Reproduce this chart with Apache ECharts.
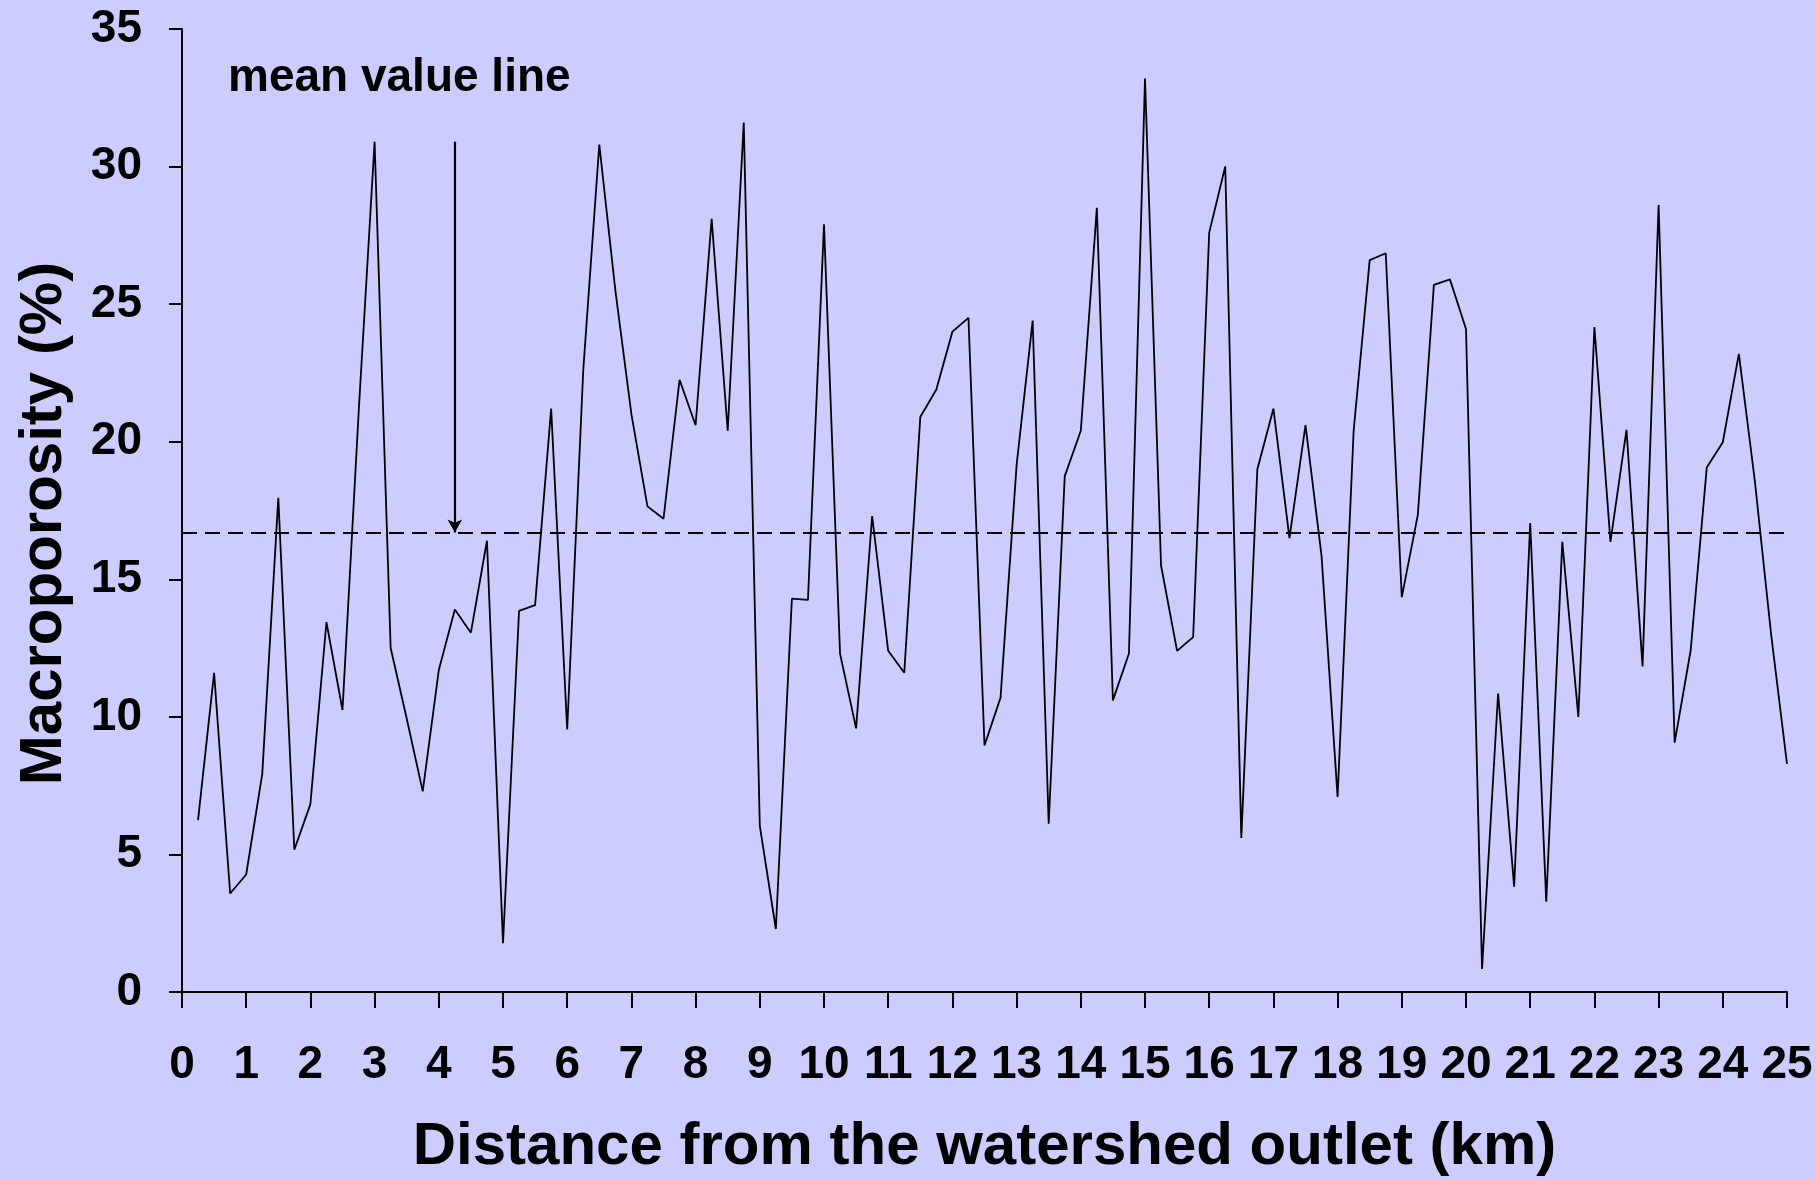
<!DOCTYPE html>
<html>
<head>
<meta charset="utf-8">
<script src="https://cdn.jsdelivr.net/npm/echarts@6/dist/echarts.min.js"></script>
<style>
html,body{margin:0;padding:0;background:#CCCCFF;}
#chart{width:1816px;height:1179px;}
</style>
</head>
<body>
<div id="chart"></div>
<script>
// Distance from the watershed outlet (km)
var distances = [0.25,0.5,0.75,1,1.25,1.5,1.75,2,2.25,2.5,2.75,3,3.25,3.5,3.75,4,4.25,4.5,4.75,5,
  5.25,5.5,5.75,6,6.25,6.5,6.75,7,7.25,7.5,7.75,8,8.25,8.5,8.75,9,9.25,9.5,9.75,10,
  10.25,10.5,10.75,11,11.25,11.5,11.75,12,12.25,12.5,12.75,13,13.25,13.5,13.75,14,14.25,14.5,14.75,15,
  15.25,15.5,15.75,16,16.25,16.5,16.75,17,17.25,17.5,17.75,18,18.25,18.5,18.75,19,19.25,19.5,19.75,20,
  20.25,20.5,20.75,21,21.25,21.5,21.75,22,22.25,22.5,22.75,23,23.25,23.5,23.75,24,24.25,24.5,24.75,25];
// Macroporosity (%)
var macroporosity = [6.25,11.6,3.58,4.27,7.92,17.96,5.17,6.83,13.44,10.25,21.0,30.9,12.5,9.94,7.29,11.7,13.9,13.06,16.4,1.77,
  13.85,14.06,21.2,9.54,22.6,30.8,25.5,21.0,17.65,17.2,22.25,20.6,28.1,20.4,31.6,6.04,2.29,14.3,14.25,27.9,
  12.3,9.58,17.3,12.4,11.6,20.9,21.9,24.0,24.5,8.96,10.7,19.15,24.4,6.12,18.75,20.4,28.5,10.6,12.3,33.2,
  15.5,12.4,12.9,27.6,30.0,5.6,19.0,21.2,16.5,20.6,15.85,7.09,20.4,26.6,26.85,14.35,17.35,25.7,25.9,24.1,
  0.84,10.85,3.83,17.04,3.28,16.36,10.0,24.17,16.36,20.43,11.83,28.6,9.06,12.42,19.06,19.98,23.19,18.56,13.05,8.29];
var meanValue = 16.7;
var arrowX = 4.25;
var arrowTop = 30.9;
var annotationText = "mean value line";
var xTitle = "Distance from the watershed outlet (km)";
var yTitle = "Macroporosity (%)";

var seriesData = distances.map(function (d, i) { return [d, macroporosity[i]]; });

var chart = echarts.init(document.getElementById('chart'), null, {renderer: 'canvas'});
var FONT = '"Liberation Sans", Arial, sans-serif';
chart.setOption({
  backgroundColor: '#CCCCFF',
  animation: false,
  grid: {left: 182, right: 29, top: 29, bottom: 187, outerBoundsMode: 'none'},
  xAxis: {
    type: 'value', min: 0, max: 25, interval: 1,
    name: xTitle, nameLocation: 'middle', nameGap: 125, nameMoveOverlap: false,
    nameTextStyle: {fontFamily: FONT, fontWeight: 'bold', fontSize: 60, color: '#000'},
    axisLine: {show: true, onZero: false, lineStyle: {color: '#000', width: 2}},
    axisTick: {show: true, inside: false, length: 16, lineStyle: {color: '#000', width: 2}},
    axisLabel: {fontFamily: FONT, fontWeight: 'bold', fontSize: 46, color: '#000', margin: 50},
    splitLine: {show: false}
  },
  yAxis: {
    type: 'value', min: 0, max: 35, interval: 5,
    name: yTitle, nameLocation: 'middle', nameGap: 108, nameRotate: 90, nameMoveOverlap: false,
    nameTextStyle: {fontFamily: FONT, fontWeight: 'bold', fontSize: 60, color: '#000', padding: [0, 26, 0, 0]},
    axisLine: {show: true, lineStyle: {color: '#000', width: 2}},
    axisTick: {show: true, inside: false, length: 13, lineStyle: {color: '#000', width: 2}},
    axisLabel: {fontFamily: FONT, fontWeight: 'bold', fontSize: 46, color: '#000', margin: 40},
    splitLine: {show: false}
  },
  graphic: [{
    type: 'text', left: 228, top: 55,
    style: {text: annotationText, font: 'bold 46px ' + FONT, fill: '#000'}
  }],
  series: [{
    type: 'line',
    data: seriesData,
    showSymbol: false,
    symbol: 'none',
    lineStyle: {color: '#000', width: 1.8},
    markLine: {
      silent: true,
      animation: false,
      label: {show: false},
      data: [
        [{coord: [0, meanValue], symbol: 'none'}, {coord: [25, meanValue], symbol: 'none', lineStyle: {color: '#000', width: 2.2, type: [15, 8]}}],
        [{coord: [arrowX, arrowTop], symbol: 'none'}, {coord: [arrowX, meanValue], symbol: 'arrow', symbolSize: [11, 13], lineStyle: {color: '#000', width: 2.2, type: 'solid'}}]
      ]
    }
  }]
});
</script>
</body>
</html>
